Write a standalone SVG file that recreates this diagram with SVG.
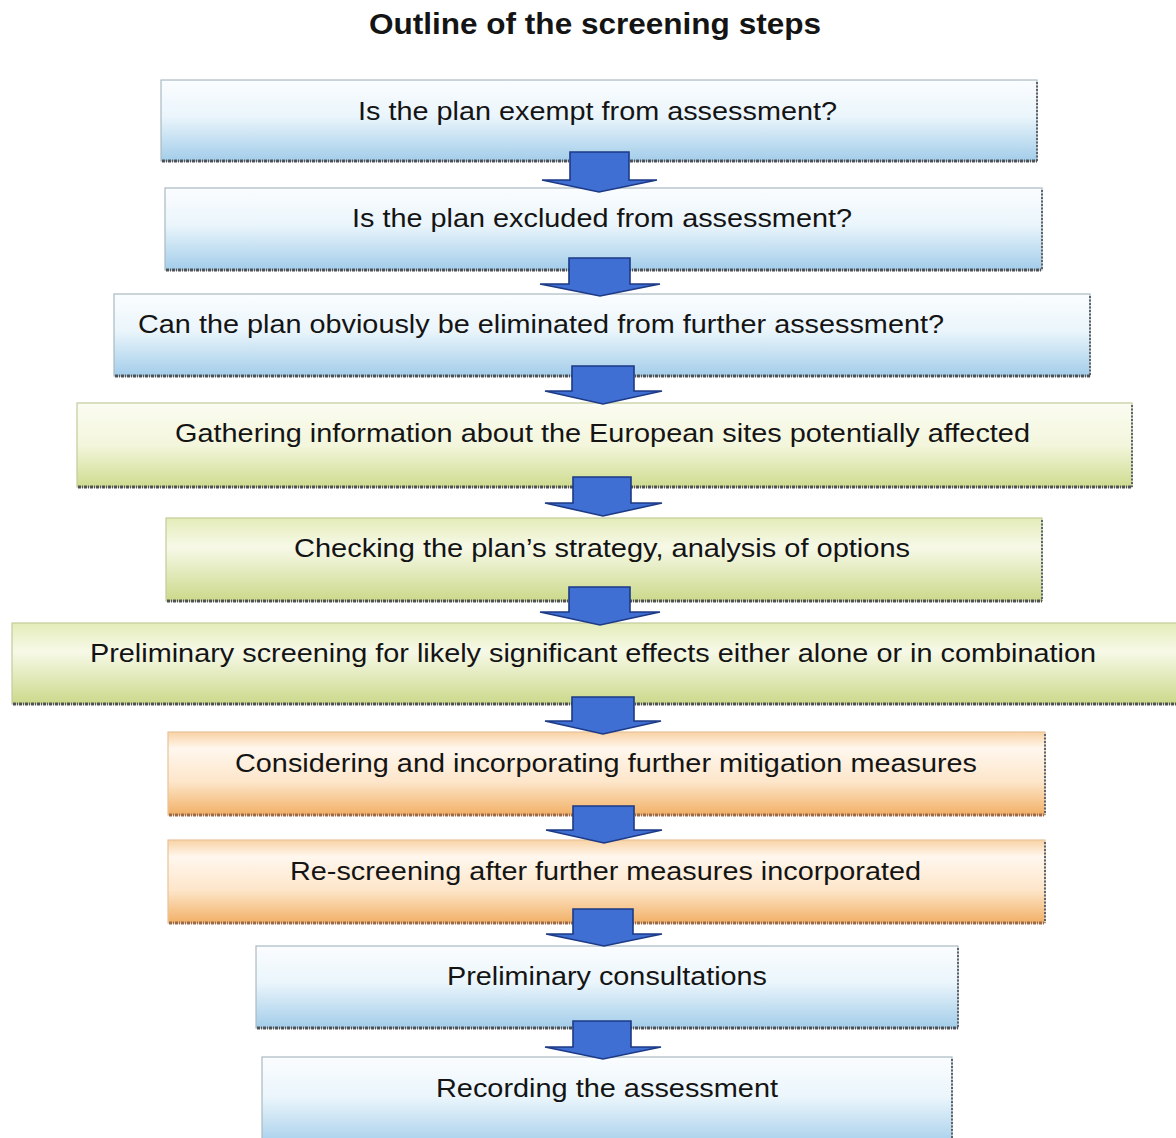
<svg xmlns="http://www.w3.org/2000/svg" width="1176" height="1138" viewBox="0 0 1176 1138">
<style>
.box{stroke:#a9b9c2;stroke-width:1.2}
.edgeR{stroke:#5d6670;stroke-width:2;stroke-dasharray:2 1.5;fill:none}
.edgeB{stroke:#4f5358;stroke-width:3;stroke-dasharray:3 1 1 1;fill:none}
.lbl{font-family:"Liberation Sans",Arial,sans-serif;font-size:26px;fill:#141414}
.title{font-family:"Liberation Sans",Arial,sans-serif;font-size:29px;font-weight:bold;fill:#141414}
.arr{fill:#3f6fd2;stroke:#1d3a86;stroke-width:1.6;stroke-linejoin:miter}
</style>
<defs>
<linearGradient id="gBlue" x1="0" y1="0" x2="0" y2="1">
<stop offset="0" stop-color="#fbfdff"/>
<stop offset="0.45" stop-color="#eaf5fb"/>
<stop offset="1" stop-color="#a3cdea"/>
</linearGradient>
<linearGradient id="gGreen" x1="0" y1="0" x2="0" y2="1">
<stop offset="0" stop-color="#fbfcf2"/>
<stop offset="0.5" stop-color="#f3f6dc"/>
<stop offset="1" stop-color="#cfdc8f"/>
</linearGradient>
<linearGradient id="gGreen2" x1="0" y1="0" x2="0" y2="1">
<stop offset="0" stop-color="#e4ecb8"/>
<stop offset="0.35" stop-color="#f7f9e8"/>
<stop offset="1" stop-color="#cbd98a"/>
</linearGradient>
<linearGradient id="gOrange" x1="0" y1="0" x2="0" y2="1">
<stop offset="0" stop-color="#f9d2a4"/>
<stop offset="0.2" stop-color="#fff7ee"/>
<stop offset="0.6" stop-color="#fde6ca"/>
<stop offset="1" stop-color="#f2b066"/>
</linearGradient>
</defs>
<rect width="1176" height="1138" fill="#ffffff"/>
<text class="title" x="369" y="34" textLength="452" lengthAdjust="spacingAndGlyphs">Outline of the screening steps</text>

<g id="n1"><rect class="box" x="161" y="80" width="876" height="81" fill="url(#gBlue)"/><path class="edgeR" d="M1037 82V161"/><path class="edgeB" d="M162 161H1037"/><text class="lbl" x="358" y="120" textLength="479" lengthAdjust="spacingAndGlyphs">Is the plan exempt from assessment?</text></g>
<g id="n2"><rect class="box" x="165" y="188" width="877" height="82" fill="url(#gBlue)"/><path class="edgeR" d="M1042 190V270"/><path class="edgeB" d="M166 270H1042"/><text class="lbl" x="352" y="227" textLength="500" lengthAdjust="spacingAndGlyphs">Is the plan excluded from assessment?</text></g>
<g id="n3"><rect class="box" x="114" y="294" width="976" height="82" fill="url(#gBlue)"/><path class="edgeR" d="M1090 296V376"/><path class="edgeB" d="M115 376H1090"/><text class="lbl" x="138" y="333" textLength="806" lengthAdjust="spacingAndGlyphs">Can the plan obviously be eliminated from further assessment?</text></g>
<g id="n4"><rect class="box" x="77" y="403" width="1055" height="84" fill="url(#gGreen)" style="stroke:#c4cc9a"/><path class="edgeR" d="M1132 405V487"/><path class="edgeB" d="M78 487H1132"/><text class="lbl" x="175" y="442" textLength="855" lengthAdjust="spacingAndGlyphs">Gathering information about the European sites potentially affected</text></g>
<g id="n5"><rect class="box" x="166" y="518" width="876" height="83" fill="url(#gGreen2)" style="stroke:#c4cc9a"/><path class="edgeR" d="M1042 520V601"/><path class="edgeB" d="M167 601H1042"/><text class="lbl" x="294" y="557" textLength="616" lengthAdjust="spacingAndGlyphs">Checking the plan’s strategy, analysis of options</text></g>
<g id="n6"><rect class="box" x="12" y="623" width="1170" height="81" fill="url(#gGreen2)" style="stroke:#c4cc9a"/><path class="edgeB" d="M13 704H1176"/><text class="lbl" x="90" y="662" textLength="1006" lengthAdjust="spacingAndGlyphs">Preliminary screening for likely significant effects either alone or in combination</text></g>
<g id="n7"><rect class="box" x="168" y="732" width="877" height="83" fill="url(#gOrange)" style="stroke:#e6c49a"/><path class="edgeR" d="M1045 734V815"/><path class="edgeB" d="M169 815H1045" style="stroke:#9a6a4a"/><text class="lbl" x="235" y="772" textLength="742" lengthAdjust="spacingAndGlyphs">Considering and incorporating further mitigation measures</text></g>
<g id="n8"><rect class="box" x="168" y="840" width="877" height="83" fill="url(#gOrange)" style="stroke:#e6c49a"/><path class="edgeR" d="M1045 842V923"/><path class="edgeB" d="M169 923H1045" style="stroke:#9a6a4a"/><text class="lbl" x="290" y="880" textLength="631" lengthAdjust="spacingAndGlyphs">Re-screening after further measures incorporated</text></g>
<g id="n9"><rect class="box" x="256" y="946" width="702" height="82" fill="url(#gBlue)"/><path class="edgeR" d="M958 948V1028"/><path class="edgeB" d="M257 1028H958"/><text class="lbl" x="447" y="985" textLength="320" lengthAdjust="spacingAndGlyphs">Preliminary consultations</text></g>
<g id="n10"><rect class="box" x="262" y="1057" width="690" height="90" fill="url(#gBlue)"/><path class="edgeR" d="M952 1059V1138"/><text class="lbl" x="436" y="1097" textLength="342" lengthAdjust="spacingAndGlyphs">Recording the assessment</text></g>

<g id="connectors">
<path class="arr" d="M570 152H629V180H657L599 192L542 180H570Z"/>
<path class="arr" d="M569 258H630V284H660L600 296L540 284H569Z"/>
<path class="arr" d="M572 366H634V391H662L603 404L545 391H572Z"/>
<path class="arr" d="M573 477H631V503H662L603 516L545 503H573Z"/>
<path class="arr" d="M569 587H630V612H660L600 625L540 612H569Z"/>
<path class="arr" d="M572 697H634V721H661L603 734L545 721H572Z"/>
<path class="arr" d="M573 806H634V830H662L604 843L546 830H573Z"/>
<path class="arr" d="M573 909H633V934H662L604 946L546 934H573Z"/>
<path class="arr" d="M573 1021H631V1047H661L603 1059L545 1047H573Z"/>
</g>
</svg>
